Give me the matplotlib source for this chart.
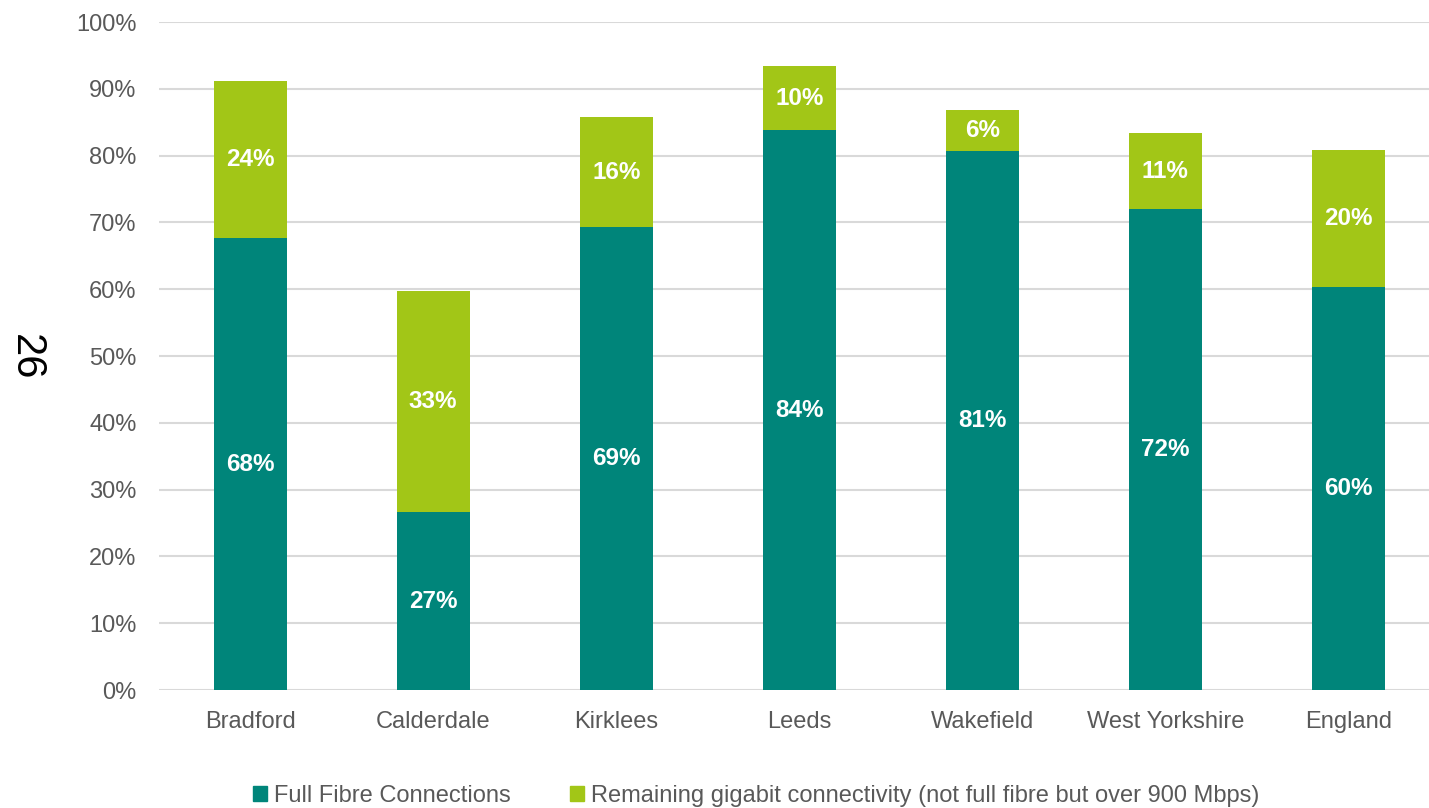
import matplotlib.pyplot as plt
from matplotlib.patches import Patch

areas = ['Bradford', 'Calderdale', 'Kirklees', 'Leeds', 'Wakefield', 'West Yorkshire', 'England']
full_fibre = [67.6, 26.6, 69.3, 83.8, 80.7, 72.0, 60.4]
remaining_gigabit = [23.6, 33.2, 16.5, 9.6, 6.1, 11.4, 20.4]

teal = '#00857a'
lime = '#a2c617'
grey_text = '#595959'

plt.rcParams['font.family'] = ['Liberation Sans', 'DejaVu Sans']

fig = plt.figure(figsize=(14.29, 8.08), dpi=100)
ax = fig.add_axes([0.111, 0.146, 0.889, 0.8267])

x = range(len(areas))
ax.bar(x, full_fibre, width=0.4, color=teal, zorder=3)
ax.bar(x, remaining_gigabit, width=0.4, bottom=full_fibre, color=lime, zorder=3)

for i in x:
    ax.text(i, full_fibre[i] / 2, f'{full_fibre[i]:.0f}%', ha='center', va='center',
            color='white', fontsize=17.5, fontweight='bold', zorder=4)
    ax.text(i, full_fibre[i] + remaining_gigabit[i] / 2, f'{remaining_gigabit[i]:.0f}%',
            ha='center', va='center', color='white', fontsize=17.5, fontweight='bold', zorder=4)

ax.set_ylim(0, 100)
ax.set_xlim(-0.5, 6.44)
ax.set_yticks(range(0, 101, 10))
ax.set_yticklabels([f'{v}%' for v in range(0, 101, 10)])
ax.set_xticks(list(x))
ax.set_xticklabels(areas)
ax.tick_params(axis='both', length=0, labelsize=17, labelcolor=grey_text)
ax.tick_params(axis='y', pad=16)
ax.tick_params(axis='x', pad=15)
ax.yaxis.grid(True, color='#d9d9d9', linewidth=1.5, zorder=0)
for side in ['top', 'right', 'left', 'bottom']:
    ax.spines[side].set_visible(False)

handles = [Patch(color=teal, label='Full Fibre Connections'),
           Patch(color=lime, label='Remaining gigabit connectivity (not full fibre but over 900 Mbps)')]
leg = fig.legend(handles=handles, loc='center', bbox_to_anchor=(0.529, 0.015), ncol=2,
                 frameon=False, fontsize=17, handlelength=0.6, handleheight=0.6,
                 handletextpad=0.3, columnspacing=2.5)
for t in leg.get_texts():
    t.set_color(grey_text)

# page number printed down the left margin
fig.text(0.018, 0.558, '26', rotation=270, ha='center', va='center', fontsize=30, color='black')

fig.savefig('out.png', dpi=100)
